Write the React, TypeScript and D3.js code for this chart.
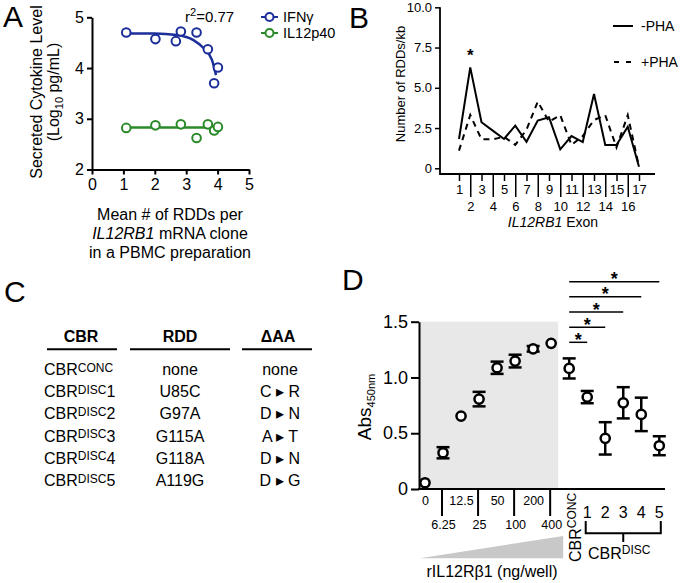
import { useEffect, useRef } from 'react';
import * as d3 from 'd3';

const FONT = "'Liberation Sans', Arial, Helvetica, sans-serif";

// Panel A
const ifngRdds = [1.09, 2.02, 2.67, 2.83, 3.33, 3.69, 3.89, 4.01];
const ifngLevel = [4.7, 4.57, 4.53, 4.72, 4.7, 4.37, 3.7, 4.01];
const p40Rdds = [1.09, 2.02, 2.83, 3.33, 3.69, 3.89, 4.01];
const p40Level = [2.82, 2.87, 2.89, 2.62, 2.89, 2.77, 2.84];
const ifngFitX = [1.1, 2.0, 2.7, 3.23, 3.56, 3.82, 3.95];
const ifngFitY = [4.68, 4.68, 4.65, 4.55, 4.39, 4.16, 3.86];
const p40FitX = [1.09, 4.01];
const p40FitY = [2.83, 2.83];

// Panel B
const exons = d3.range(1, 18);
const minusPha = [1.82, 6.27, 2.86, 2.34, 1.82, 2.65, 1.65, 2.96, 3.17, 1.18, 2.0, 1.63, 4.61, 1.45, 1.45, 2.58, 0.1];
const plusPha = [1.1, 3.31, 1.8, 1.8, 1.96, 1.45, 2.4, 4.14, 2.9, 3.3, 1.45, 2.0, 3.0, 3.3, 1.3, 3.3, 0.1];

// Panel C
const cbrSup = ['CONC', 'DISC', 'DISC', 'DISC', 'DISC', 'DISC'];
const cbrNum = ['', '1', '2', '3', '4', '5'];
const rddRows = ['none', 'U85C', 'G97A', 'G115A', 'G118A', 'A119G'];
const aaFrom = ['none', 'C', 'D', 'A', 'D', 'D'];
const aaTo = ['', 'R', 'N', 'T', 'N', 'G'];

// Panel D
const doseLabels = ['0', '6.25', '12.5', '25', '50', '100', '200', '400'];
const discLabels = ['1', '2', '3', '4', '5'];
const dCats = [...doseLabels, 'CONC', ...discLabels];
const dMean = [0.056, 0.325, 0.654, 0.806, 1.087, 1.147, 1.257, 1.306, 1.081, 0.824, 0.454, 0.773, 0.669, 0.388];
const dErr = [0, 0.05, 0, 0.065, 0.055, 0.057, 0.025, 0, 0.09, 0.055, 0.145, 0.14, 0.15, 0.085];

function styleAxis(g: any, fs: number, sw: number) {
  g.attr('font-family', FONT).attr('font-size', fs);
  g.selectAll('line').attr('stroke', '#000').attr('stroke-width', sw);
  g.selectAll('path').attr('stroke', '#000').attr('stroke-width', sw);
  g.selectAll('text').attr('fill', '#000');
}

export default function App() {
  const svgRef = useRef<SVGSVGElement>(null);

  useEffect(() => {
    if (!svgRef.current) return;
    const svg = d3.select(svgRef.current);
    svg.selectAll('*').remove();
    svg.attr('font-family', FONT);

    const letter = (t: string, x: number, y: number) =>
      svg.append('text').attr('x', x).attr('y', y).attr('font-size', 30).text(t);
    letter('A', 3, 27);
    letter('B', 349, 28);
    letter('C', 4, 302);
    letter('D', 342, 290);

    // ---------- A ----------
    const BLUE = '#1c2e9a';
    const GREEN = '#2a8a2a';
    const ax = d3.scaleLinear().domain([0, 5]).range([92, 249]);
    const ay = d3.scaleLinear().domain([2, 5]).range([169.5, 17.3]);

    const axA = svg.append('g').attr('transform', 'translate(0,169.5)')
      .call(d3.axisBottom(ax).tickValues([0, 1, 2, 3, 4, 5]).tickSize(5).tickSizeOuter(0).tickPadding(4)
        .tickFormat(d3.format('d')));
    styleAxis(axA, 16, 2);
    const ayA = svg.append('g').attr('transform', 'translate(92,0)')
      .call(d3.axisLeft(ay).tickValues([2, 3, 4, 5]).tickSize(5).tickSizeOuter(0).tickPadding(3)
        .tickFormat(d3.format('d')));
    styleAxis(ayA, 16, 2);

    const lineA = d3.line<[number, number]>().x(d => ax(d[0])).y(d => ay(d[1])).curve(d3.curveMonotoneX);
    svg.append('path').attr('d', lineA(ifngFitX.map((x, i) => [x, ifngFitY[i]]) as [number, number][]))
      .attr('fill', 'none').attr('stroke', BLUE).attr('stroke-width', 2.5);
    svg.append('path').attr('d', lineA(p40FitX.map((x, i) => [x, p40FitY[i]]) as [number, number][]))
      .attr('fill', 'none').attr('stroke', GREEN).attr('stroke-width', 2.5);

    svg.append('g').selectAll('circle').data(ifngRdds).enter().append('circle')
      .attr('cx', d => ax(d)).attr('cy', (d, i) => ay(ifngLevel[i])).attr('r', 4.3)
      .attr('fill', '#fff').attr('stroke', BLUE).attr('stroke-width', 2);
    svg.append('g').selectAll('circle').data(p40Rdds).enter().append('circle')
      .attr('cx', d => ax(d)).attr('cy', (d, i) => ay(p40Level[i])).attr('r', 4.3)
      .attr('fill', '#fff').attr('stroke', GREEN).attr('stroke-width', 2);

    const r2 = svg.append('text').attr('x', 185).attr('y', 22).attr('font-size', 15);
    r2.append('tspan').text('r');
    r2.append('tspan').attr('font-size', 11).attr('dy', -6).text('2');
    r2.append('tspan').attr('dy', 6).text('=0.77');

    [['IFNγ', BLUE, 17], ['IL12p40', GREEN, 33]].forEach(([t, c, y]) => {
      svg.append('line').attr('x1', 261).attr('x2', 278).attr('y1', y).attr('y2', y)
        .attr('stroke', c).attr('stroke-width', 2);
      svg.append('circle').attr('cx', 269.5).attr('cy', y).attr('r', 4)
        .attr('fill', '#fff').attr('stroke', c).attr('stroke-width', 2);
      svg.append('text').attr('x', 283).attr('y', (y as number) + 5.2).attr('font-size', 14.5).text(t as string);
    });

    svg.append('text').attr('transform', 'translate(42,92) rotate(-90)').attr('text-anchor', 'middle')
      .attr('font-size', 16).text('Secreted Cytokine Level');
    const l2 = svg.append('text').attr('transform', 'translate(59,92) rotate(-90)').attr('text-anchor', 'middle')
      .attr('font-size', 16);
    l2.append('tspan').text('(Log');
    l2.append('tspan').attr('font-size', 11).attr('dy', 4).text('10');
    l2.append('tspan').attr('dy', -4).text(' pg/mL)');

    svg.append('text').attr('x', 170).attr('y', 220).attr('text-anchor', 'middle').attr('font-size', 16)
      .text('Mean # of RDDs per');
    const xl2 = svg.append('text').attr('x', 170).attr('y', 239).attr('text-anchor', 'middle').attr('font-size', 16);
    xl2.append('tspan').attr('font-style', 'italic').text('IL12RB1');
    xl2.append('tspan').text(' mRNA clone');
    svg.append('text').attr('x', 170).attr('y', 258).attr('text-anchor', 'middle').attr('font-size', 16)
      .text('in a PBMC preparation');

    // ---------- B ----------
    const bx = d3.scaleLinear().domain([1, 17]).range([459, 639]);
    const by = d3.scaleLinear().domain([0, 10]).range([168.3, 7.3]);
    const bAxisY = 174;

    svg.append('line').attr('x1', 440).attr('x2', 440).attr('y1', by(10)).attr('y2', bAxisY + 1)
      .attr('stroke', '#000').attr('stroke-width', 1.8);
    svg.append('line').attr('x1', 440).attr('x2', 655).attr('y1', bAxisY).attr('y2', bAxisY)
      .attr('stroke', '#000').attr('stroke-width', 1.8);

    const byA = svg.append('g').attr('transform', 'translate(440,0)')
      .call(d3.axisLeft(by).tickValues([0, 2.5, 5, 7.5, 10]).tickSize(5).tickSizeOuter(0).tickPadding(3)
        .tickFormat(d => (+d === 0 ? '0' : d3.format('.1f')(+d))));
    byA.select('.domain').remove();
    styleAxis(byA, 13, 1.5);

    const oddEx = exons.filter(e => e % 2 === 1);
    const evenEx = exons.filter(e => e % 2 === 0);
    const bxOdd = svg.append('g').attr('transform', `translate(0,${bAxisY})`)
      .call(d3.axisBottom(bx).tickValues(oddEx).tickSize(7).tickPadding(4).tickFormat(d3.format('d')));
    bxOdd.select('.domain').remove();
    styleAxis(bxOdd, 13, 1.5);
    const bxEven = svg.append('g').attr('transform', `translate(0,${bAxisY})`)
      .call(d3.axisBottom(bx).tickValues(evenEx).tickSize(23).tickPadding(5).tickFormat(d3.format('d')));
    bxEven.select('.domain').remove();
    styleAxis(bxEven, 13, 1.5);

    const lineB = d3.line<number>().x((d, i) => bx(exons[i])).y(d => by(d));
    svg.append('path').attr('d', lineB(plusPha)).attr('fill', 'none').attr('stroke', '#000')
      .attr('stroke-width', 2).attr('stroke-dasharray', '6,5');
    svg.append('path').attr('d', lineB(minusPha)).attr('fill', 'none').attr('stroke', '#000')
      .attr('stroke-width', 2);

    svg.append('text').attr('x', bx(2)).attr('y', by(minusPha[1]) - 6).attr('text-anchor', 'middle')
      .attr('font-size', 17).attr('font-weight', 'bold').text('*');

    svg.append('text').attr('transform', 'translate(405,84) rotate(-90)').attr('text-anchor', 'middle')
      .attr('font-size', 13).text('Number of RDDs/kb');
    const bxl = svg.append('text').attr('x', 553).attr('y', 227).attr('text-anchor', 'middle').attr('font-size', 14);
    bxl.append('tspan').attr('font-style', 'italic').text('IL12RB1');
    bxl.append('tspan').text(' Exon');

    svg.append('line').attr('x1', 613).attr('x2', 633).attr('y1', 26).attr('y2', 26)
      .attr('stroke', '#000').attr('stroke-width', 2);
    svg.append('text').attr('x', 641).attr('y', 31).attr('font-size', 14).text('-PHA');
    svg.append('line').attr('x1', 614).attr('x2', 633).attr('y1', 62).attr('y2', 62)
      .attr('stroke', '#000').attr('stroke-width', 2).attr('stroke-dasharray', '5,7');
    svg.append('text').attr('x', 641).attr('y', 67).attr('font-size', 14).text('+PHA');

    // ---------- C ----------
    const cols = [
      { title: 'CBR', cx: 81, x1: 47, x2: 117 },
      { title: 'RDD', cx: 180, x1: 130, x2: 230 },
      { title: 'ΔAA', cx: 278, x1: 242, x2: 312 },
    ];
    cols.forEach(c => {
      svg.append('text').attr('x', c.cx).attr('y', 341.5).attr('text-anchor', 'middle')
        .attr('font-size', 16).attr('font-weight', 'bold').text(c.title);
      svg.append('line').attr('x1', c.x1).attr('x2', c.x2).attr('y1', 349.3).attr('y2', 349.3)
        .attr('stroke', '#000').attr('stroke-width', 2);
    });
    const rowY = d3.scaleLinear().domain([0, 5]).range([375, 486]);
    rddRows.forEach((r, i) => {
      const y = rowY(i);
      const t = svg.append('text').attr('x', 44).attr('y', y).attr('font-size', 16);
      t.append('tspan').text('CBR');
      t.append('tspan').attr('font-size', 12).attr('dy', -3.5).text(cbrSup[i]);
      if (cbrNum[i]) t.append('tspan').attr('dy', 3.5).text(cbrNum[i]);
      svg.append('text').attr('x', 180).attr('y', y).attr('text-anchor', 'middle').attr('font-size', 16).text(r);
      svg.append('text').attr('x', 280).attr('y', y).attr('text-anchor', 'middle').attr('font-size', 16)
        .text(aaTo[i] ? `${aaFrom[i]} ▸ ${aaTo[i]}` : aaFrom[i]);
    });

    // ---------- D ----------
    const dx = d3.scalePoint<string>().domain(dCats).range([425, 659.3]);
    const dy = d3.scaleLinear().domain([0, 1.5]).range([489, 321.7]);

    svg.append('rect').attr('x', 419).attr('y', dy(1.5))
      .attr('width', (dx('400') as number) + 7 - 419).attr('height', dy(0) - dy(1.5)).attr('fill', '#e8e8e8');

    const dyA = svg.append('g').attr('transform', 'translate(419,0)')
      .call(d3.axisLeft(dy).tickValues([0, 0.5, 1, 1.5]).tickSize(8).tickSizeOuter(0).tickPadding(3)
        .tickFormat(d => (+d === 0 ? '0' : d3.format('.1f')(+d))));
    styleAxis(dyA, 18, 2);
    svg.append('line').attr('x1', 418).attr('x2', 665).attr('y1', dy(0)).attr('y2', dy(0))
      .attr('stroke', '#000').attr('stroke-width', 2);

    const doseOdd = doseLabels.filter((d, i) => i % 2 === 0);
    const doseEven = doseLabels.filter((d, i) => i % 2 === 1);
    const dxr1 = svg.append('g').attr('transform', `translate(0,${dy(0)})`)
      .call(d3.axisBottom(dx).tickValues(doseOdd).tickSize(0).tickPadding(7));
    dxr1.select('.domain').remove();
    styleAxis(dxr1, 12.5, 2);
    const dxr2 = svg.append('g').attr('transform', `translate(0,${dy(0)})`)
      .call(d3.axisBottom(dx).tickValues(doseEven).tickSize(27).tickPadding(4));
    dxr2.select('.domain').remove();
    styleAxis(dxr2, 12.5, 2);
    dxr2.selectAll('line').attr('transform', 'translate(-1.5,0)');

    // significance bars
    discLabels.forEach((d, i) => {
      const y = 342.3 - i * 15.15;
      const x1 = dx('CONC') as number;
      const x2 = dx(d) as number;
      svg.append('line').attr('x1', x1).attr('x2', x2).attr('y1', y).attr('y2', y)
        .attr('stroke', '#000').attr('stroke-width', 1.5);
      svg.append('text').attr('x', (x1 + x2) / 2).attr('y', y + 3.5).attr('text-anchor', 'middle')
        .attr('font-size', 18).attr('font-weight', 'bold').text('*');
    });

    // error bars and points
    const gD = svg.append('g');
    dCats.forEach((c, i) => {
      const x = dx(c) as number;
      const m = dMean[i];
      const e = dErr[i];
      if (e > 0) {
        gD.append('line').attr('x1', x).attr('x2', x).attr('y1', dy(m - e)).attr('y2', dy(m + e))
          .attr('stroke', '#000').attr('stroke-width', 2.5);
        [m - e, m + e].forEach(v => {
          gD.append('line').attr('x1', x - 6.5).attr('x2', x + 6.5).attr('y1', dy(v)).attr('y2', dy(v))
            .attr('stroke', '#000').attr('stroke-width', 2.5);
        });
      }
    });
    gD.selectAll('circle').data(dMean).enter().append('circle')
      .attr('cx', (d, i) => dx(dCats[i]) as number).attr('cy', d => dy(d)).attr('r', 4.6)
      .attr('fill', '#fff').attr('stroke', '#000').attr('stroke-width', 2.5);

    // CBR CONC rotated label
    const conc = svg.append('text').attr('transform', `translate(${(dx('CONC') as number) + 11.5},562) rotate(-90)`)
      .attr('font-size', 16);
    conc.append('tspan').text('CBR');
    conc.append('tspan').attr('font-size', 12).attr('dy', -5).text('CONC');

    // DISC numbers and bracket
    discLabels.forEach(d => {
      svg.append('text').attr('x', dx(d) as number).attr('y', 517.5).attr('text-anchor', 'middle')
        .attr('font-size', 16).text(d);
    });
    const bx1 = (dx('1') as number) - 1.5;
    const bx2 = (dx('5') as number) + 1.5;
    svg.append('path').attr('d', `M${bx1},521V533.3H${bx2}V521`).attr('fill', 'none')
      .attr('stroke', '#000').attr('stroke-width', 2);
    svg.append('line').attr('x1', dx('3') as number).attr('x2', dx('3') as number)
      .attr('y1', 533.3).attr('y2', 542).attr('stroke', '#000').attr('stroke-width', 2);
    const disc = svg.append('text').attr('x', 588).attr('y', 558.5).attr('font-size', 16);
    disc.append('tspan').text('CBR');
    disc.append('tspan').attr('font-size', 12).attr('dy', -5).text('DISC');

    // dose wedge
    const wx1 = (dx('0') as number) - 5;
    const wx2 = (dx('400') as number) + 12;
    svg.append('path').attr('d', `M${wx1},558.3L${wx2},536L${wx2},558.3Z`).attr('fill', '#c8c8c8');
    svg.append('text').attr('x', 492).attr('y', 577).attr('text-anchor', 'middle').attr('font-size', 16)
      .text('rIL12Rβ1 (ng/well)');

    const absL = svg.append('text').attr('transform', 'translate(371,407) rotate(-90)').attr('text-anchor', 'middle')
      .attr('font-size', 19);
    absL.append('tspan').text('Abs');
    absL.append('tspan').attr('font-size', 11).attr('dy', 4).text('450nm');
  }, []);

  return (
    <svg ref={svgRef} width={680} height={583}
      style={{ position: 'absolute', left: 0, top: 0, background: '#fff' }} />
  );
}
